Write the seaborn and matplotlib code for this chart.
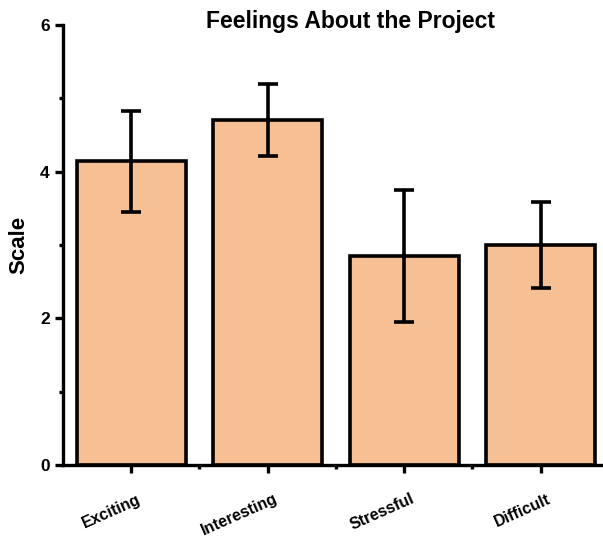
import pandas as pd
import numpy as np
import matplotlib
matplotlib.use('Agg')
import matplotlib.pyplot as plt
import matplotlib.transforms as mtransforms
import seaborn as sns
from matplotlib.ticker import MultipleLocator

# Data
feelings = ['Exciting', 'Interesting', 'Stressful', 'Difficult']
means = [4.14, 4.71, 2.85, 3.00]
errs = [0.69, 0.49, 0.90, 0.58]

df = pd.DataFrame({'feeling': feelings, 'scale': means})

sns.set_style("white")
plt.rcParams['font.family'] = ['Liberation Sans', 'DejaVu Sans']
plt.rcParams['font.weight'] = 'bold'
plt.rcParams['text.color'] = 'black'
plt.rcParams['axes.labelcolor'] = 'black'
plt.rcParams['xtick.color'] = 'black'
plt.rcParams['ytick.color'] = 'black'

fig = plt.figure(figsize=(6.03, 5.38), dpi=100)
ax = fig.add_axes([0.1045, 0.1357, 0.905, 0.8178])

sns.barplot(data=df, x='feeling', y='scale', color='#F7BF94', saturation=1,
            edgecolor='black', linewidth=2.6, width=0.8, errorbar=None, ax=ax)
ax.errorbar(np.arange(len(feelings)), df['scale'], yerr=errs, fmt='none',
            ecolor='black', elinewidth=2.6, capsize=7, capthick=2.6)

ax.set_xlim(-0.5, 3.5)
ax.set_ylim(0, 6)
ax.yaxis.set_major_locator(MultipleLocator(2))
ax.yaxis.set_minor_locator(MultipleLocator(1))
ax.set_xticks(np.arange(len(feelings)))
ax.set_xticks(np.arange(len(feelings) - 1) + 0.5, minor=True)

for s in ['top', 'right']:
    ax.spines[s].set_visible(False)
for s in ['left', 'bottom']:
    ax.spines[s].set_linewidth(2.4)
    ax.spines[s].set_color('black')

ax.tick_params(which='major', direction='out', length=6, width=2.4,
               left=True, bottom=True)
ax.tick_params(which='minor', direction='out', length=3, width=2.4,
               left=True, bottom=True)
ax.tick_params(axis='y', labelsize=12.5)
ax.tick_params(axis='x', labelsize=11.5, pad=13)

ax.set_xticklabels(feelings, rotation=24, ha='right', rotation_mode='anchor',
                   fontweight='bold')
shift = mtransforms.ScaledTranslation(6 / 100, 0, fig.dpi_scale_trans)
for lab in ax.get_xticklabels():
    lab.set_transform(lab.get_transform() + shift)
for lab in ax.get_yticklabels():
    lab.set_fontweight('bold')

ax.set_xlabel('')
ax.set_ylabel('Scale', fontsize=16, fontweight='bold', labelpad=8)
ax.set_title('Feelings About the Project', fontsize=16.5, fontweight='bold',
             x=0.526, y=1.0, pad=-2)

plt.savefig('out.png', dpi=100)
